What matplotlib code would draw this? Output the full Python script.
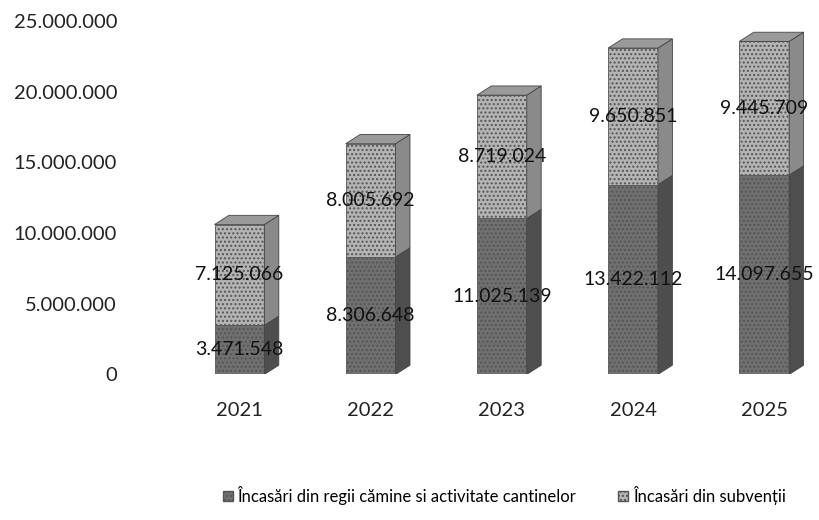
import matplotlib
matplotlib.use("Agg")
import matplotlib.pyplot as plt
from matplotlib.patches import Polygon, Patch
from matplotlib.ticker import FuncFormatter

years = ["2021", "2022", "2023", "2024", "2025"]
regii = [3471548, 8306648, 11025139, 13422112, 14097655]
subventii = [7125066, 8005692, 8719024, 9650851, 9445709]
series_names = ["Încasări din regii cămine si activitate cantinelor", "Încasări din subvenții"]
yticks = [0, 5000000, 10000000, 15000000, 20000000, 25000000]

plt.rcParams['font.family'] = ['Lato', 'DejaVu Sans']

fig = plt.figure(figsize=(8.2, 5.2), dpi=100)
ax = fig.add_axes([0.18, 0.28, 0.80, 0.68])

width = 0.38
dx, dy = 0.11, 650000
front_colors = ["#707070", "#b4b4b4"]
side_colors = ["#4e4e4e", "#8a8a8a"]
top_colors = ["#8a8a8a", "#9a9a9a"]

xs = list(range(len(years)))
for i, x in enumerate(xs):
    bottoms = [0, regii[i]]
    vals = [regii[i], subventii[i]]
    for s in range(2):
        b = bottoms[s]
        h = vals[s]
        ax.bar(x, h, width=width, bottom=b, color=front_colors[s], edgecolor="#555555",
               linewidth=0.6, hatch="....", zorder=2)
        xr = x + width / 2
        side = Polygon([(xr, b), (xr + dx, b + dy), (xr + dx, b + h + dy), (xr, b + h)],
                       closed=True, facecolor=side_colors[s], edgecolor="#444444", linewidth=0.6, zorder=2)
        ax.add_patch(side)
    top = regii[i] + subventii[i]
    xl = x - width / 2
    xr = x + width / 2
    tp = Polygon([(xl, top), (xr, top), (xr + dx, top + dy), (xl + dx, top + dy)],
                 closed=True, facecolor=top_colors[1], edgecolor="#444444", linewidth=0.6, zorder=2)
    ax.add_patch(tp)

def fmt(v):
    return f"{int(v):,}".replace(",", ".")

for i, x in enumerate(xs):
    ax.text(x, regii[i] / 2, fmt(regii[i]), ha="center", va="center", fontsize=14, color="#111111", zorder=3)
    ax.text(x, regii[i] + subventii[i] / 2, fmt(subventii[i]), ha="center", va="center", fontsize=14,
            color="#111111", zorder=3)

ax.set_xlim(-0.7, 4.3)
ax.set_ylim(0, 25000000)
ax.set_yticks(yticks)
ax.yaxis.set_major_formatter(FuncFormatter(lambda v, p: fmt(v)))
ax.set_xticks(xs)
ax.set_xticklabels(years)
ax.tick_params(axis="both", length=0, labelsize=14.5, colors="#222222", pad=20)
ax.tick_params(axis="y", pad=22)
for sp in ax.spines.values():
    sp.set_visible(False)

handles = [Patch(facecolor=front_colors[0], edgecolor="#555555", hatch="...."),
           Patch(facecolor=front_colors[1], edgecolor="#555555", hatch="....")]
fig.legend(handles, series_names, loc="lower center", bbox_to_anchor=(0.615, 0.0), ncol=2, frameon=False,
           fontsize=12, handlelength=0.6, handleheight=0.6, handletextpad=0.3, columnspacing=2.5)

fig.savefig("out.png", dpi=100)
